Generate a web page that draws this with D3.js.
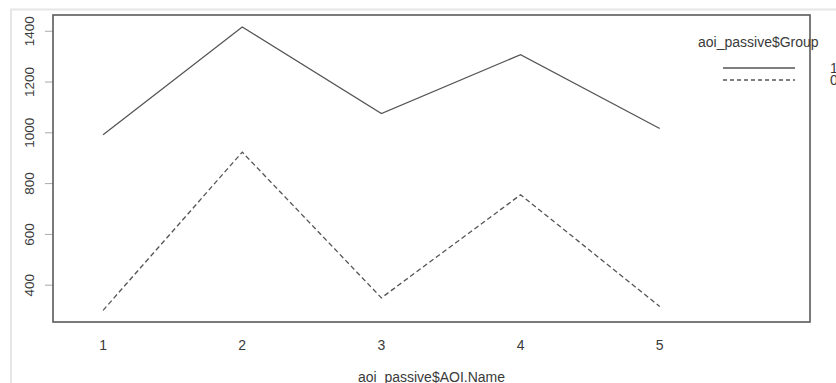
<!DOCTYPE html>
<html>
<head>
<meta charset="utf-8">
<script src="https://cdn.jsdelivr.net/npm/d3@7"></script>
<style>
  html, body { margin: 0; padding: 0; background: #fff; }
  svg { display: block; }
  text { font-family: "Liberation Sans", Arial, sans-serif; fill: #3a3a3a; }
</style>
</head>
<body>
<div id="chart"></div>
<script>
// data
const aoiNames = [1, 2, 3, 4, 5];
const group1 = [992, 1417, 1076, 1308, 1017];
const group0 = [301, 924, 350, 756, 316];
const yTicks = [400, 600, 800, 1000, 1200, 1400];
const groupLabels = ['1', '0'];

const W = 836, H = 383;
const plot = { left: 53, top: 15, right: 810, bottom: 322 };

const svg = d3.select('#chart').append('svg')
  .attr('width', W).attr('height', H);

// faint screenshot frame
svg.append('line').attr('x1', 10).attr('x2', W).attr('y1', 9.5).attr('y2', 9.5)
  .attr('stroke', '#e6e6e6').attr('stroke-width', 2);
svg.append('line').attr('x1', 11).attr('x2', 11).attr('y1', 9).attr('y2', H)
  .attr('stroke', '#e6e6e6').attr('stroke-width', 2);

const x = d3.scaleLinear().domain([0.64, 6.08]).range([plot.left, plot.right]);
const y = d3.scaleLinear().domain([255, 1464]).range([plot.bottom, plot.top]);

// y axis ticks + labels (rotated, R style)
const yAxis = svg.append('g');
yAxis.selectAll('line').data(yTicks).enter().append('line')
  .attr('x1', plot.left - 8).attr('x2', plot.left)
  .attr('y1', d => y(d)).attr('y2', d => y(d))
  .attr('stroke', '#aaa').attr('stroke-width', 1);
yAxis.selectAll('text').data(yTicks).enter().append('text')
  .attr('transform', d => `translate(34,${y(d)}) rotate(-90)`)
  .attr('text-anchor', 'middle')
  .style('font-size', '13.5px')
  .text(d => d);

// x labels
svg.append('g').selectAll('text').data(aoiNames).enter().append('text')
  .attr('x', d => x(d)).attr('y', 350)
  .attr('text-anchor', 'middle')
  .style('font-size', '14px')
  .text(d => d);

svg.append('text')
  .attr('x', (plot.left + plot.right) / 2).attr('y', 382)
  .attr('text-anchor', 'middle')
  .style('font-size', '14px')
  .text('aoi_passive$AOI.Name');

// lines
const line = d3.line().x((d, i) => x(aoiNames[i])).y(d => y(d));
const series = [
  { name: '1', values: group1, dash: null },
  { name: '0', values: group0, dash: '5,3' }
];
svg.selectAll('path.series').data(series).enter().append('path')
  .attr('class', 'series')
  .attr('d', d => line(d.values))
  .attr('fill', 'none')
  .attr('stroke', '#555')
  .attr('stroke-width', 1.3)
  .attr('stroke-dasharray', d => d.dash);

// plot box
svg.append('rect')
  .attr('x', plot.left).attr('y', plot.top)
  .attr('width', plot.right - plot.left).attr('height', plot.bottom - plot.top)
  .attr('fill', 'none').attr('stroke', '#5a5a5a').attr('stroke-width', 1.6);

// legend
const lg = svg.append('g');
lg.append('text').attr('x', 698).attr('y', 47).style('font-size', '14px')
  .text('aoi_passive$Group');
series.forEach((s, i) => {
  const ly = 68 + i * 12;
  lg.append('line').attr('x1', 723).attr('x2', 795).attr('y1', ly).attr('y2', ly)
    .attr('stroke', '#555').attr('stroke-width', 1.3)
    .attr('stroke-dasharray', s.dash ? '4,3' : null);
  lg.append('text').attr('x', 830).attr('y', ly + 5).style('font-size', '14px')
    .text(groupLabels[i]);
});
</script>
</body>
</html>
